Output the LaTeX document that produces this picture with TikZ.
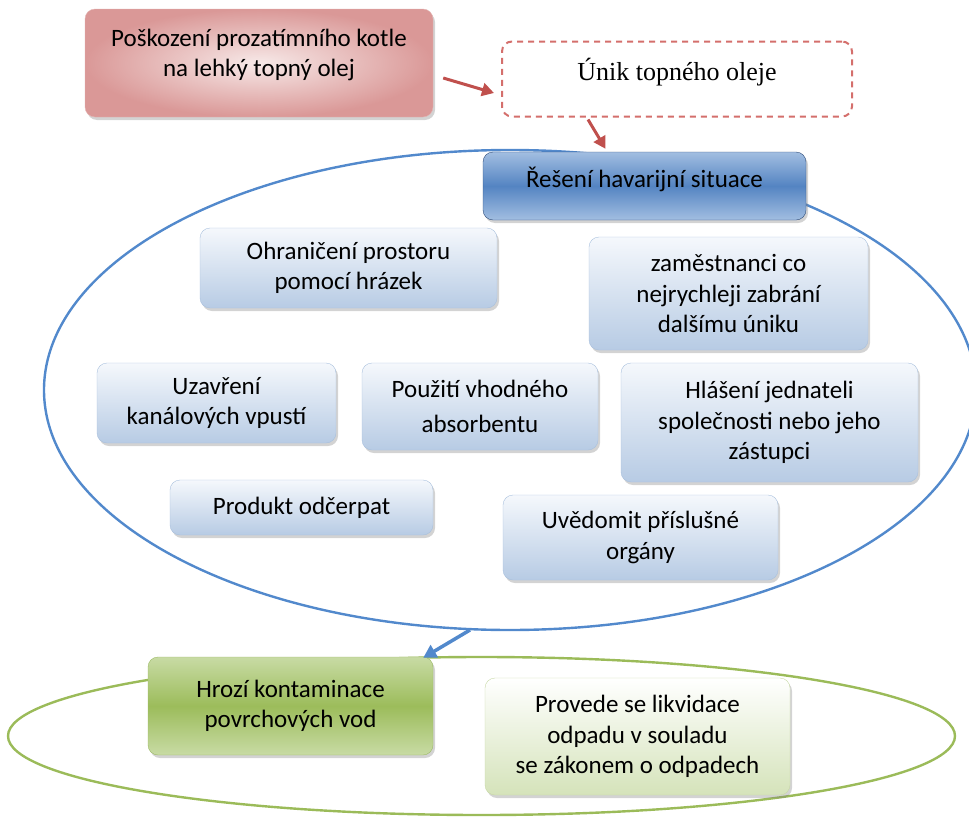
\documentclass[tikz,border=0pt]{standalone}
\usepackage{fontspec}
\setmainfont{Carlito}
\newfontfamily\leakfont{Liberation Serif}
\usetikzlibrary{shapes.geometric,shadows,arrows.meta}

\definecolor{causeout}{HTML}{DA9897}
\definecolor{causein}{HTML}{F7E9E8}
\definecolor{causeline}{HTML}{E3B3B2}
\definecolor{leakline}{HTML}{D46F6C}
\definecolor{redarrow}{HTML}{C0504D}
\definecolor{titletop}{HTML}{A2BEE1}
\definecolor{titlemid}{HTML}{5484C2}
\definecolor{titleline}{HTML}{2E4C7A}
\definecolor{steptop}{HTML}{F5F8FC}
\definecolor{stepbot}{HTML}{B7CBE4}
\definecolor{stepline}{HTML}{A9C0DD}
\definecolor{zoneblue}{HTML}{5289CC}
\definecolor{zonegreen}{HTML}{9BBB59}
\definecolor{threattop}{HTML}{C8DBA4}
\definecolor{threatmid}{HTML}{9CBC5B}
\definecolor{threatline}{HTML}{9DBA66}
\definecolor{disposebot}{HTML}{D5E3BA}
\definecolor{disposeline}{HTML}{C8D9A6}

\begin{document}
\begin{tikzpicture}[x=1pt, y=-1pt]
        \tikzstyle{boxstyle}=[rectangle, rounded corners=10pt, align=center, inner sep=4pt,
                font=\fontsize{25}{30.5}\selectfont,
                drop shadow={shadow xshift=2pt, shadow yshift=-3pt, opacity=0.35}]
        \tikzstyle{stepbox}=[boxstyle, draw=stepline, top color=steptop, bottom color=stepbot]
        \tikzstyle{redline}=[draw=redarrow, line width=3pt, arrows=-{Triangle[length=12pt, width=13pt]}]
        \useasboundingbox (0, 0) rectangle (969, 819);
        \clip (0, 0) rectangle (969, 819);

        % the two zones, drawn first so that the boxes lie on them
        \node[ellipse, draw=zoneblue, line width=2.4pt, minimum width=932pt, minimum height=480pt] at (510, 390) (zone) {};
        \node[ellipse, draw=zonegreen, line width=2.4pt, minimum width=947pt, minimum height=158pt] at (481.5, 736) (greenzone) {};

        % cause and leak
        \node[boxstyle, draw=causeline, inner color=causein, outer color=causeout, text depth=20pt,
              minimum width=348pt, minimum height=108pt] at (259, 63) (cause)
              {Poškození prozatímního kotle\\na lehký topný olej};
        \node[rectangle, rounded corners=10pt, draw=leakline, line width=2pt, dash pattern=on 6pt off 5pt,
              fill=white, minimum width=350pt, minimum height=75pt, text depth=19pt,
              font=\leakfont\fontsize{26}{30}\selectfont] at (677, 79) (leak) {Únik topného oleje};

        % title of the blue zone
        \node[boxstyle, draw=titleline, top color=titletop, bottom color=titletop, middle color=titlemid,
              text depth=17pt, minimum width=323pt, minimum height=68pt] at (644.5, 186) (solve) {Řešení havarijní situace};

        % steps inside the blue zone
        \node[stepbox, minimum width=297pt, minimum height=80pt] at (348.5, 268) (dams) {Ohraničení prostoru\\pomocí hrázek};
        \node[stepbox, minimum width=279pt, minimum height=113pt] at (728.5, 293.5) (staff) {zaměstnanci co\\nejrychleji zabrání\\dalšímu úniku};
        \node[stepbox, minimum width=239pt, minimum height=80pt] at (216.5, 403) (drains) {Uzavření\\kanálových vpustí};
        \node[stepbox, minimum width=236pt, minimum height=87pt] at (480, 406.5) (absorb) {Použití vhodného\\[4pt]absorbentu};
        \node[stepbox, minimum width=297pt, minimum height=119pt] at (769.5, 422.5) (report) {Hlášení jednateli\\společnosti nebo jeho\\zástupci};
        \node[stepbox, minimum width=263pt, minimum height=55pt] at (301.5, 507.5) (pump) {Produkt odčerpat};
        \node[stepbox, minimum width=275pt, minimum height=85pt] at (640.5, 537.5) (notify) {Uvědomit příslušné\\orgány};

        % boxes of the green zone
        \node[boxstyle, draw=threatline, top color=threattop, bottom color=threattop, middle color=threatmid,
              minimum width=285pt, minimum height=98pt] at (290.5, 706) (threat) {Hrozí kontaminace\\povrchových vod};
        \node[boxstyle, draw=disposeline, top color=white, bottom color=disposebot,
              minimum width=305pt, minimum height=117pt] at (637.5, 736.5) (dispose)
              {Provede se likvidace\\odpadu v souladu\\se zákonem o odpadech};

        % arrows
        \coordinate (zonefoot) at (470, 630);
        \draw[redline] ([xshift=10pt, yshift=-15pt]cause.east) -- ([xshift=-7pt, yshift=-14pt]leak.west);
        \draw[redline] ([xshift=-89pt, yshift=-2pt]leak.south) -- ([xshift=-39pt, yshift=3pt]solve.north);
        \draw[draw=zoneblue, line width=3.5pt, arrows=-{Triangle[length=13pt, width=14pt]}] (zonefoot) -- ([xshift=-10pt, yshift=-1pt]threat.north east);
    \end{tikzpicture}
\end{document}
